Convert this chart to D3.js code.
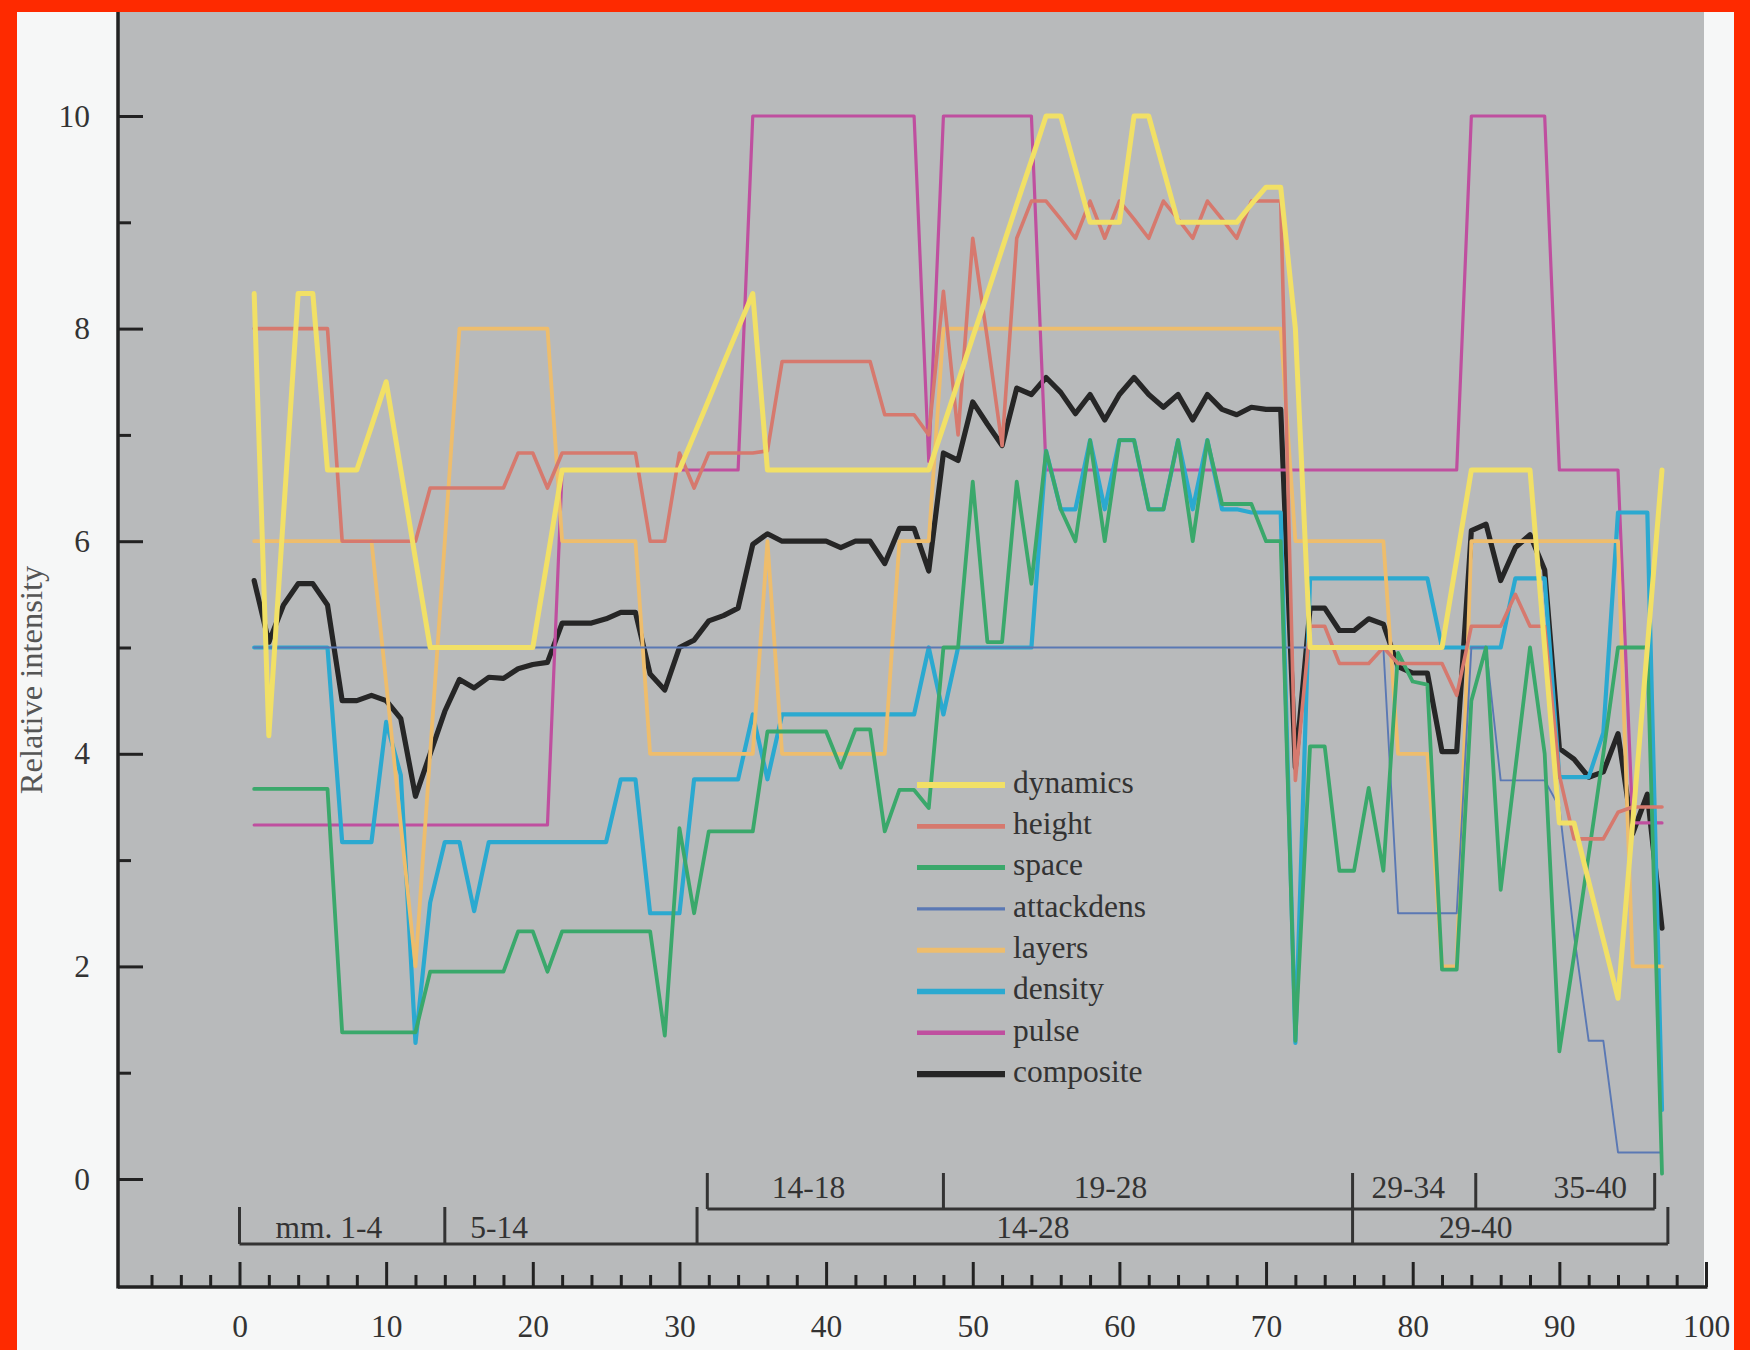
<!DOCTYPE html>
<html><head><meta charset="utf-8">
<script src="https://cdn.jsdelivr.net/npm/d3@7"></script>
<style>
html,body{margin:0;padding:0;background:#fff;}
svg{display:block;}
</style></head><body>
<svg id="c" width="1750" height="1350"></svg>
<script>
// ---------------- data ----------------
const measures = d3.range(1, 98);
const dynamics = [8.33,4.17,6.25,8.33,8.33,6.67,6.67,6.67,7.08,7.5,
 6.67,5.83,5.0,5.0,5.0,5.0,5.0,5.0,5.0,5.0,
 5.83,6.67,6.67,6.67,6.67,6.67,6.67,6.67,6.67,6.67,
 7.0,7.33,7.67,8.0,8.33,6.67,6.67,6.67,6.67,6.67,
 6.67,6.67,6.67,6.67,6.67,6.67,6.67,7.08,7.5,7.92,
 8.33,8.75,9.17,9.58,10,10,9.5,9.0,9.0,9.0,
 10,10,9.5,9.0,9.0,9.0,9.0,9.0,9.17,9.33,
 9.33,8.0,5.0,5.0,5.0,5.0,5.0,5.0,5.0,5.0,
 5.0,5.0,5.83,6.67,6.67,6.67,6.67,6.67,5.0,3.35,
 3.35,2.8,2.25,1.7,3.35,5.0,6.67];
const height = [8,8,8,8,8,8,6,6,6,6,
 6,6,6.5,6.5,6.5,6.5,6.5,6.5,6.83,6.83,
 6.5,6.83,6.83,6.83,6.83,6.83,6.83,6,6,6.83,
 6.5,6.83,6.83,6.83,6.83,6.85,7.69,7.69,7.69,7.69,
 7.69,7.69,7.69,7.19,7.19,7.19,7.0,8.35,7.0,8.85,
 7.9,6.9,8.85,9.2,9.2,9.03,8.85,9.2,8.85,9.2,
 9.03,8.85,9.2,9.03,8.85,9.2,9.03,8.85,9.2,9.2,
 9.2,3.75,5.2,5.2,4.85,4.85,4.85,5.0,4.85,4.85,
 4.85,4.85,4.55,5.2,5.2,5.2,5.5,5.2,5.2,3.8,
 3.2,3.2,3.2,3.45,3.5,3.5,3.5];
const space = [3.67,3.67,3.67,3.67,3.67,3.67,1.38,1.38,1.38,1.38,
 1.38,1.38,1.95,1.95,1.95,1.95,1.95,1.95,2.33,2.33,
 1.95,2.33,2.33,2.33,2.33,2.33,2.33,2.33,1.35,3.3,
 2.5,3.27,3.27,3.27,3.27,4.21,4.21,4.21,4.21,4.21,
 3.87,4.23,4.23,3.27,3.66,3.66,3.49,5.0,5.0,6.56,
 5.05,5.05,6.56,5.6,6.85,6.3,6.0,6.95,6.0,6.95,
 6.95,6.3,6.3,6.95,6.0,6.95,6.35,6.35,6.35,6.0,
 6.0,1.3,4.07,4.07,2.9,2.9,3.68,2.9,4.95,4.68,
 4.65,1.97,1.97,4.5,5.0,2.72,3.86,5.0,4.0,1.2,
 2.1,3.05,4.0,5.0,5.0,5.0,0.05];
const attackdens = [5,5,5,5,5,5,5,5,5,5,
 5,5,5,5,5,5,5,5,5,5,
 5,5,5,5,5,5,5,5,5,5,
 5,5,5,5,5,5,5,5,5,5,
 5,5,5,5,5,5,5,5,5,5,
 5,5,5,5,5,5,5,5,5,5,
 5,5,5,5,5,5,5,5,5,5,
 5,5,5,5,5,5,5,5,2.5,2.5,
 2.5,2.5,2.5,5,5,3.75,3.75,3.75,3.75,3.5,
 2.3,1.3,1.3,0.25,0.25,0.25,0.25];
const layers = [6,6,6,6,6,6,6,6,6,4.67,
 3.33,2,4,6,8,8,8,8,8,8,
 8,6,6,6,6,6,6,4,4,4,
 4,4,4,4,4,6,4,4,4,4,
 4,4,4,4,6,6,6,8,8,8,
 8,8,8,8,8,8,8,8,8,8,
 8,8,8,8,8,8,8,8,8,8,
 8,6,6,6,6,6,6,6,4,4,
 4,2,2,6,6,6,6,6,6,6,
 6,6,6,6,2,2,2];
const density = [5,5,5,5,5,5,3.17,3.17,3.17,4.3,
 3.8,1.28,2.6,3.17,3.17,2.52,3.17,3.17,3.17,3.17,
 3.17,3.17,3.17,3.17,3.17,3.76,3.76,2.5,2.5,2.5,
 3.76,3.76,3.76,3.76,4.37,3.76,4.37,4.37,4.37,4.37,
 4.37,4.37,4.37,4.37,4.37,4.37,5.0,4.37,5.0,5.0,
 5.0,5.0,5.0,5.0,6.85,6.3,6.3,6.95,6.3,6.95,
 6.95,6.3,6.3,6.95,6.3,6.95,6.3,6.3,6.27,6.27,
 6.27,1.28,5.65,5.65,5.65,5.65,5.65,5.65,5.65,5.65,
 5.65,5.0,5.0,5.0,5.0,5.0,5.65,5.65,5.65,3.78,
 3.78,3.78,4.2,6.27,6.27,6.27,0.65];
const pulse = [3.33,3.33,3.33,3.33,3.33,3.33,3.33,3.33,3.33,3.33,
 3.33,3.33,3.33,3.33,3.33,3.33,3.33,3.33,3.33,3.33,
 3.33,6.67,6.67,6.67,6.67,6.67,6.67,6.67,6.67,6.67,
 6.67,6.67,6.67,6.67,10,10,10,10,10,10,
 10,10,10,10,10,10,6.75,10,10,10,
 10,10,10,10,6.67,6.67,6.67,6.67,6.67,6.67,
 6.67,6.67,6.67,6.67,6.67,6.67,6.67,6.67,6.67,6.67,
 6.67,6.67,6.67,6.67,6.67,6.67,6.67,6.67,6.67,6.67,
 6.67,6.67,6.67,10,10,10,10,10,10,6.67,
 6.67,6.67,6.67,6.67,3.35,3.35,3.35];
const composite = [5.63,5.05,5.4,5.6,5.6,5.4,4.5,4.5,4.55,4.5,
 4.33,3.6,4.0,4.4,4.7,4.62,4.72,4.71,4.8,4.84,
 4.86,5.23,5.23,5.23,5.27,5.33,5.33,4.75,4.6,5.0,
 5.07,5.25,5.3,5.37,5.97,6.07,6.0,6.0,6.0,6.0,
 5.94,6.0,6.0,5.79,6.12,6.12,5.72,6.83,6.76,7.31,
 7.1,6.9,7.44,7.38,7.54,7.4,7.2,7.38,7.14,7.38,
 7.54,7.38,7.26,7.38,7.14,7.38,7.24,7.19,7.26,7.24,
 7.24,3.87,5.37,5.37,5.16,5.16,5.27,5.22,4.82,4.76,
 4.76,4.02,4.02,6.1,6.16,5.63,5.94,6.06,5.73,4.05,
 3.95,3.78,3.83,4.19,3.25,3.62,2.36];

const seriesNames = ["dynamics","height","space","attackdens","layers","density","pulse","composite"];
const seriesValues = [dynamics, height, space, attackdens, layers, density, pulse, composite];
const seriesColors = ["#f1e066","#d6796e","#3aa86b","#5a78b4","#eebd6c","#2ba9d0","#bf4f9f","#262626"];

const xMajorTicks = [0,10,20,30,40,50,60,70,80,90,100];
const xMinorTicks = [-6,-4,-2,2,4,6,8,12,14,16,18,22,24,26,28,32,34,36,38,42,44,46,48,52,54,56,58,62,64,66,68,72,74,76,78,82,84,86,88,92,94,96,98];
const yMajorTicks = [0,2,4,6,8,10];
const yMinorTicks = [1,3,5,7,9];

const upperTicks = [31.9, 48.0, 75.9, 84.3, 96.5];
const upperLabels = ["14-18","19-28","29-34","35-40"];
const upperLabelAt = [38.8, 59.4, 79.7, 92.1];
const lowerTicks = [0, 14, 31.2, 75.9, 97.4];
const lowerLabels = ["mm. 1-4","5-14","14-28","29-40"];
const lowerLabelAt = [6.1, 17.7, 54.1, 84.3];

// ---------------- layout ----------------
const W = 1750, H = 1350;
const plotL = 118, plotT = 12, plotR = 1704, axisY = 1287;
const FONT = "'Liberation Serif','Times New Roman',serif";
const FS = 31.5;
const svg = d3.select("#c");
const x = d3.scaleLinear().domain([0, 100]).range([239.5, 1706]);
const y = d3.scaleLinear().domain([0, 10]).range([1179, 116]);

svg.append("rect").attr("width", W).attr("height", H).attr("fill", "#f6f7f7");
svg.append("rect").attr("x", plotL).attr("y", plotT).attr("width", plotR - plotL).attr("height", axisY - plotT + 1).attr("fill", "#b8babb");

// red frame
svg.append("rect").attr("x", 0).attr("y", 0).attr("width", W).attr("height", 12).attr("fill", "#fe2a00");
svg.append("rect").attr("x", 0).attr("y", 0).attr("width", 17).attr("height", H).attr("fill", "#fe2a00");
svg.append("rect").attr("x", 1734).attr("y", 0).attr("width", 16).attr("height", H).attr("fill", "#fe2a00");

// axes
const axisColor = "#222";
const gx = svg.append("g").attr("transform", `translate(0,${axisY})`)
  .call(d3.axisBottom(x).tickValues(xMajorTicks).tickSize(-25).tickPadding(28).tickFormat(d3.format("d")));
gx.select(".domain").remove();
gx.selectAll(".tick line").attr("stroke", axisColor).attr("stroke-width", 3);
gx.selectAll(".tick text").attr("font-family", FONT).attr("font-size", FS).attr("fill", "#333");
const gxm = svg.append("g").attr("transform", `translate(0,${axisY})`)
  .call(d3.axisBottom(x).tickValues(xMinorTicks).tickSize(-12).tickFormat(""));
gxm.select(".domain").remove();
gxm.selectAll(".tick line").attr("stroke", axisColor).attr("stroke-width", 3);

const gy = svg.append("g").attr("transform", `translate(${plotL},0)`)
  .call(d3.axisLeft(y).tickValues(yMajorTicks).tickSize(-25).tickPadding(28).tickFormat(d3.format("d")));
gy.select(".domain").remove();
gy.selectAll(".tick line").attr("stroke", axisColor).attr("stroke-width", 3);
gy.selectAll(".tick text").attr("font-family", FONT).attr("font-size", FS).attr("fill", "#333");
const gym = svg.append("g").attr("transform", `translate(${plotL},0)`)
  .call(d3.axisLeft(y).tickValues(yMinorTicks).tickSize(-13).tickFormat(""));
gym.select(".domain").remove();
gym.selectAll(".tick line").attr("stroke", axisColor).attr("stroke-width", 3);

svg.append("line").attr("x1", plotL).attr("x2", plotL).attr("y1", plotT).attr("y2", axisY + 1.5)
  .attr("stroke", axisColor).attr("stroke-width", 3.5);
svg.append("line").attr("x1", plotL).attr("x2", x(100) + 1.5).attr("y1", axisY).attr("y2", axisY)
  .attr("stroke", axisColor).attr("stroke-width", 3.5);

svg.append("text").attr("transform", "translate(35,680) rotate(-90)")
  .attr("text-anchor", "middle").attr("dominant-baseline", "middle")
  .attr("font-family", FONT).attr("font-size", 32.5).attr("fill", "#555")
  .text("Relative intensity");

// section brackets
const bColor = "#333";
const upY = 1209, loY = 1244;
const gb = svg.append("g").attr("stroke", bColor).attr("stroke-width", 3).attr("fill", "none");
gb.append("line").attr("x1", x(upperTicks[0])).attr("x2", x(upperTicks[upperTicks.length - 1])).attr("y1", upY).attr("y2", upY);
gb.selectAll(".ut").data(upperTicks).join("line").attr("x1", d => x(d)).attr("x2", d => x(d)).attr("y1", upY - 36).attr("y2", upY);
gb.append("line").attr("x1", x(lowerTicks[0])).attr("x2", x(lowerTicks[lowerTicks.length - 1])).attr("y1", loY).attr("y2", loY);
gb.selectAll(".lt").data(lowerTicks).join("line").attr("x1", d => x(d)).attr("x2", d => x(d)).attr("y1", loY - 37).attr("y2", loY);

svg.selectAll(".ul").data(upperLabels).join("text")
  .attr("x", (d, i) => x(upperLabelAt[i])).attr("y", upY - 11)
  .attr("text-anchor", "middle").attr("font-family", FONT).attr("font-size", FS).attr("fill", "#333")
  .text(d => d);
svg.selectAll(".ll").data(lowerLabels).join("text")
  .attr("x", (d, i) => x(lowerLabelAt[i])).attr("y", loY - 6)
  .attr("text-anchor", "middle").attr("font-family", FONT).attr("font-size", FS).attr("fill", "#333")
  .text(d => d);

// series lines (legend order reversed so dynamics is on top)
const widths = {dynamics: 5, height: 3.6, space: 3.8, attackdens: 1.9, layers: 3.8, density: 4.2, pulse: 3.2, composite: 5.2};
const line = d3.line().x((d, i) => x(measures[i])).y(d => y(d));
const gl = svg.append("g").attr("fill", "none").attr("stroke-linejoin", "round").attr("stroke-linecap", "round");
for (let k = seriesNames.length - 1; k >= 0; k--) {
  gl.append("path").datum(seriesValues[k]).attr("d", line)
    .attr("stroke", seriesColors[k]).attr("stroke-width", widths[seriesNames[k]]);
}

// legend
const leg = svg.append("g");
seriesNames.forEach((n, i) => {
  const ly = 785 + i * 41.3;
  leg.append("line").attr("x1", 917).attr("x2", 1005).attr("y1", ly).attr("y2", ly)
    .attr("stroke", seriesColors[i]).attr("stroke-width", widths[n] + 1.2);
  leg.append("text").attr("x", 1013).attr("y", ly).attr("dy", "0.25em")
    .attr("font-family", FONT).attr("font-size", FS).attr("fill", "#333").text(n);
});
</script>
</body></html>
